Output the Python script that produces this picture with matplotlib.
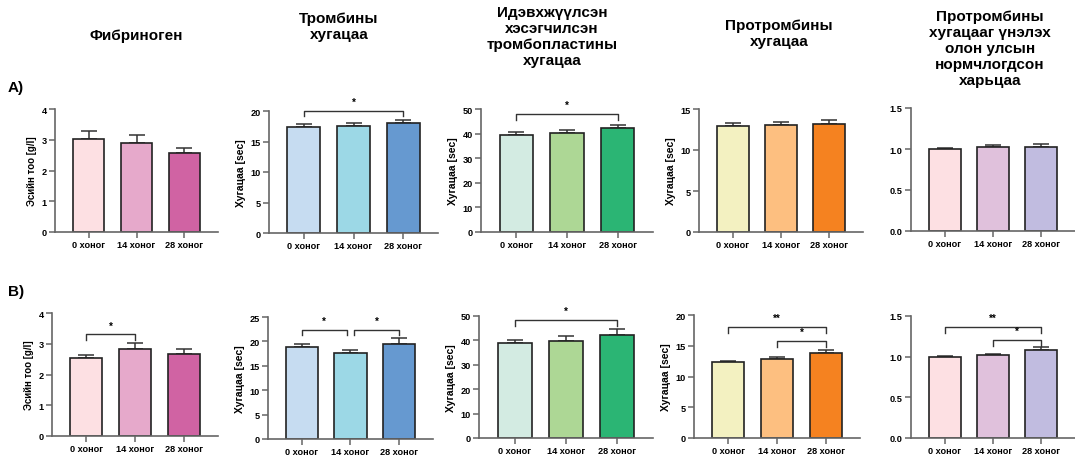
import numpy as np
import matplotlib
matplotlib.use("Agg")
import matplotlib.pyplot as plt

plt.rcParams['font.family'] = ['Liberation Sans', 'DejaVu Sans']
plt.rcParams['font.weight'] = 'bold'

groups = ["0 хоног", "14 хоног", "28 хоног"]

titles = [
    "Фибриноген",
    "Тромбины\nхугацаа",
    "Идэвхжүүлсэн\nхэсэгчилсэн\nтромбопластины\nхугацаа",
    "Протромбины\nхугацаа",
    "Протромбины\nхугацааг үнэлэх\nолон улсын\nнормчлогдсон\nхарьцаа",
]
ylabels = ["Эсийн тоо [g/l]", "Хугацаа [sec]", "Хугацаа [sec]", "Хугацаа [sec]", ""]

colors = [
    ["#FDE0E3", "#E6A9CB", "#D063A3"],
    ["#C6DCF1", "#9CD8E6", "#6699D0"],
    ["#D3EBE2", "#ADD795", "#2BB574"],
    ["#F3F1C1", "#FDBF80", "#F58220"],
    ["#FDE0E3", "#E0C1DC", "#C1BCE0"],
]

ymax = [4, 20, 50, 15, 1.5]
ymax_b = [4, 25, 50, 20, 1.5]
yticks_a = [[0, 1, 2, 3, 4], [0, 5, 10, 15, 20], [0, 10, 20, 30, 40, 50], [0, 5, 10, 15], [0, 0.5, 1.0, 1.5]]
yticks_b = [[0, 1, 2, 3, 4], [0, 5, 10, 15, 20, 25], [0, 10, 20, 30, 40, 50], [0, 5, 10, 15, 20], [0, 0.5, 1.0, 1.5]]

# row A: means and upper SEM
mean_a = [
    [3.03, 2.90, 2.58],
    [17.4, 17.6, 18.0],
    [39.6, 40.3, 42.1],
    [12.95, 13.07, 13.15],
    [1.00, 1.02, 1.02],
]
err_a = [
    [0.27, 0.27, 0.14],
    [0.4, 0.45, 0.5],
    [1.0, 1.1, 1.3],
    [0.35, 0.37, 0.45],
    [0.01, 0.03, 0.04],
]
# row B
mean_b = [
    [2.55, 2.83, 2.68],
    [18.9, 17.7, 19.5],
    [39.1, 39.9, 42.3],
    [12.36, 12.8, 13.77],
    [0.997, 1.018, 1.079],
]
err_b = [
    [0.09, 0.18, 0.14],
    [0.6, 0.6, 1.1],
    [1.1, 1.9, 2.2],
    [0.16, 0.3, 0.5],
    [0.008, 0.012, 0.037],
]

# significance brackets: (panel, from, to, label, level, drop)
sig_a = [(1, 0, 2, "*", 20.0, 0.9), (2, 0, 2, "*", 48.0, 2.5)]
sig_b = [
    (0, 0, 1, "*", 3.31, 0.19),
    (1, 0, 1, "*", 22.4, 1.1), (1, 1, 2, "*", 22.4, 1.1),
    (2, 0, 2, "*", 48.4, 2.5),
    (3, 0, 2, "**", 18.1, 1.0), (3, 1, 2, "*", 15.8, 1.0),
    (4, 0, 2, "**", 1.365, 0.075), (4, 1, 2, "*", 1.206, 0.075),
]

W, H = 1075, 456
fig = plt.figure(figsize=(W / 100, H / 100), dpi=100)

# axes boxes in pixels: x0, x1, ytop, ybottom
boxes_a = [(55, 218, 110, 233), (269, 438, 112, 234), (481, 653, 110, 233), (699, 863, 110, 233), (911, 1075, 109, 232)]
boxes_b = [(52, 218, 314, 437), (268, 433, 318, 440), (479, 653, 317, 439), (694, 860, 316, 439), (911, 1075, 317, 439)]

spine_c = "#666666"


def draw_panel(box, k, means, errs, top, ticks, sigs):
    x0, x1, yt, yb = box
    ax = fig.add_axes([x0 / W, 1 - yb / H, (x1 - x0) / W, (yb - yt) / H])
    x = np.arange(3)
    ax.bar(x, means, width=0.66, color=colors[k], edgecolor="#222222", linewidth=1.2, zorder=2)
    ax.errorbar(x, means, yerr=[[0, 0, 0], errs], fmt="none", ecolor="#333333",
                elinewidth=1.1, capsize=6, capthick=1.1, zorder=1)
    ax.set_xlim(-0.7, 2.7)
    ax.set_ylim(0, top)
    ax.set_yticks(ticks)
    if k == 4:
        ax.set_yticklabels([f"{t:.1f}" for t in ticks])
    ax.set_xticks(x)
    ax.set_xticklabels(groups)
    ax.tick_params(labelsize=6.6, length=4, width=1.1, color=spine_c, pad=2)
    for s in ["top", "right"]:
        ax.spines[s].set_visible(False)
    for s in ["left", "bottom"]:
        ax.spines[s].set_color(spine_c)
        ax.spines[s].set_linewidth(1.2)
    if ylabels[k]:
        ax.set_ylabel(ylabels[k], fontsize=7.5 if k else 7, fontweight="bold", labelpad=3)
    mine = [s for s in sigs if s[0] == k]
    for (p, i, j, lab, lev, drop) in mine:
        # shorten brackets that share an end at the same level
        xi, xj = i, j
        for (_, i2, j2, _, lev2, _) in mine:
            if lev2 == lev and j2 == i:
                xi = i + 0.08
            if lev2 == lev and i2 == j:
                xj = j - 0.08
        ax.plot([xi, xi, xj, xj], [lev - drop, lev, lev, lev - drop], color="#333333",
                lw=1.0, clip_on=False)
        ax.text((xi + xj) / 2, lev + top * 0.03, lab, ha="center", va="bottom",
                fontsize=7, clip_on=False)
    return ax


for k in range(5):
    draw_panel(boxes_a[k], k, mean_a[k], err_a[k], ymax[k], yticks_a[k], sig_a)
    draw_panel(boxes_b[k], k, mean_b[k], err_b[k], ymax_b[k], yticks_b[k], sig_b)

title_pos = [(136, 36), (339, 27), (552, 37), (779, 34), (990, 49)]
for t, (tx, ty) in zip(titles, title_pos):
    fig.text(tx / W, 1 - ty / H, t, ha="center", va="center", fontsize=11,
             fontweight="bold", linespacing=1.2)

fig.text(8 / W, 1 - 88 / H, "A)", ha="left", va="center", fontsize=11, fontweight="bold")
fig.text(8 / W, 1 - 292 / H, "B)", ha="left", va="center", fontsize=11, fontweight="bold")

fig.savefig("out.png", dpi=100, facecolor="white")
